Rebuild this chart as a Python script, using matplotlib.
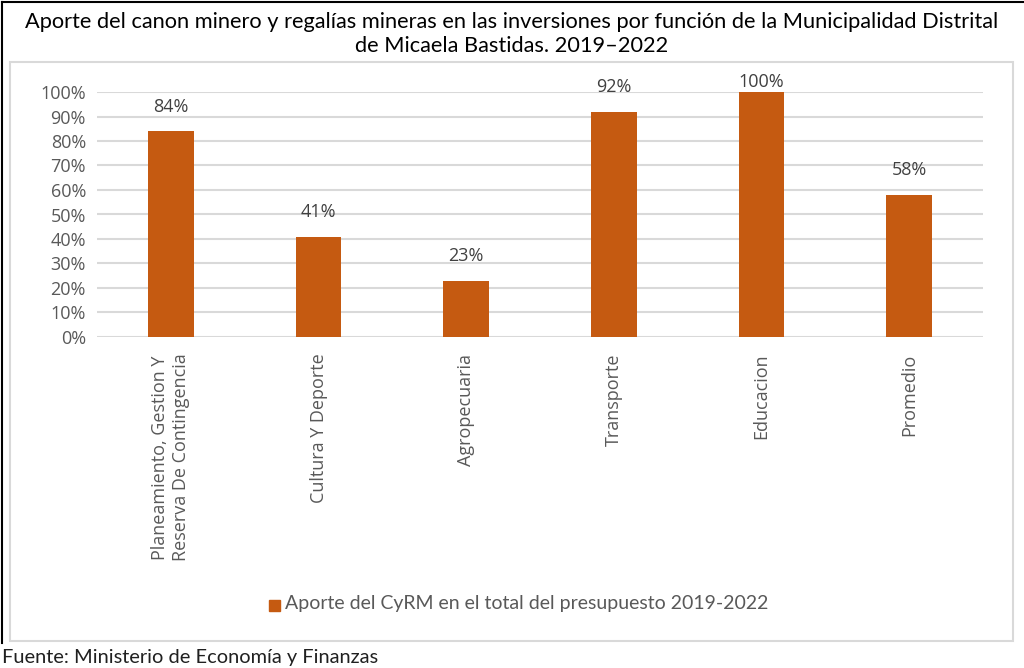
import numpy as np
import matplotlib.pyplot as plt
from matplotlib.patches import Rectangle
from matplotlib.lines import Line2D

categorias = ["Planeamiento, Gestion Y\nReserva De Contingencia", "Cultura Y Deporte",
              "Agropecuaria", "Transporte", "Educacion", "Promedio"]
aporte = [0.84, 0.41, 0.23, 0.92, 1.00, 0.58]
etiquetas = ["84%", "41%", "23%", "92%", "100%", "58%"]
yticks = np.arange(0, 1.01, 0.1)

naranja = "#C55A11"
gris = "#595959"
W, H = 1024, 668

fig = plt.figure(figsize=(W / 100, H / 100), dpi=100)

# marco negro del titulo y recuadro gris del grafico
fig.add_artist(Line2D([1.5 / W, 1.5 / W], [1 - 2 / H, 1 - 643 / H], color="black", lw=1.5))
fig.add_artist(Line2D([1.5 / W, 1], [1 - 2 / H, 1 - 2 / H], color="black", lw=1.5))
fig.add_artist(Rectangle((10 / W, 1 - 641 / H), 1003 / W, 579 / H, fill=False,
                         edgecolor="#D9D9D9", lw=1.5, zorder=0))

fig.text(512 / W, 1 - 34 / H,
         "Aporte del canon minero y regalías mineras en las inversiones por función de la Municipalidad Distrital\nde Micaela Bastidas. 2019\u20132022",
         ha="center", va="center", fontsize=15.7, family="Lato", linespacing=1.3, color="black")

ax = fig.add_axes([97 / W, 1 - 337 / H, 886 / W, 245 / H])
x = np.arange(len(categorias))
ax.bar(x, aporte, width=0.31, color=naranja, zorder=3)
for xi, v, t in zip(x, aporte, etiquetas):
    # Excel baja la etiqueta cuando no cabe sobre la barra
    ax.text(xi, min(v + 0.10, 1.04), t, ha="center", va="center", fontsize=13,
            family="Open Sans", color="#404040")

ax.set_ylim(0, 1)
ax.set_xlim(-0.5, len(categorias) - 0.5)
ax.set_yticks(yticks)
ax.set_yticklabels([f"{int(round(v * 100))}%" for v in yticks], family="Open Sans",
                   fontsize=13, color=gris)
ax.set_xticks(x)
ax.set_xticklabels(categorias, rotation=90, family="Open Sans", fontsize=13, color=gris,
                   va="top", ha="center", multialignment="center")
ax.tick_params(length=0, pad=8)
ax.tick_params(axis="x", pad=12)
ax.grid(axis="y", color="#D9D9D9", lw=1.5, zorder=0)
for s in ax.spines.values():
    s.set_visible(False)

# leyenda
fig.add_artist(Rectangle((269 / W, 1 - 611 / H), 11 / W, 11 / H, color=naranja))
fig.text(285 / W, 1 - 604 / H, "Aporte del CyRM en el total del presupuesto 2019-2022",
         ha="left", va="center", fontsize=14, family="Lato", color=gris)

fig.text(2 / W, 1 - 657 / H, "Fuente: Ministerio de Economía y Finanzas",
         ha="left", va="center", fontsize=14.4, family="Lato", color="#202020")

fig.savefig("out.png", dpi=100, facecolor="white")
